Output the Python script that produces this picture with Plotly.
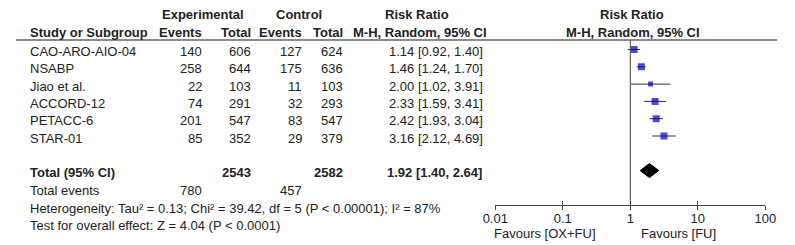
import plotly.graph_objects as go

# ---------------- data ----------------
studies = ["CAO-ARO-AIO-04", "NSABP", "Jiao et al.", "ACCORD-12", "PETACC-6", "STAR-01"]
exp_events = [140, 258, 22, 74, 201, 85]
exp_total = [606, 644, 103, 291, 547, 352]
ctrl_events = [127, 175, 11, 32, 83, 29]
ctrl_total = [624, 636, 103, 293, 547, 379]
rr = [1.14, 1.46, 2.00, 2.33, 2.42, 3.16]
rr_lo = [0.92, 1.24, 1.02, 1.59, 1.93, 2.12]
rr_hi = [1.40, 1.70, 3.91, 3.41, 3.04, 4.69]

total_exp = 2543
total_ctrl = 2582
total_exp_events = 780
total_ctrl_events = 457
pooled_rr = 1.92
pooled_lo = 1.40
pooled_hi = 2.64

heterogeneity = "Heterogeneity: Tau² = 0.13; Chi² = 39.42, df = 5 (P < 0.00001); I² = 87%"
overall = "Test for overall effect: Z = 4.04 (P < 0.0001)"
tick_vals = [0.01, 0.1, 1, 10, 100]
tick_text = ["0.01", "0.1", "1", "10", "100"]
fav_left = "Favours [OX+FU]"
fav_right = "Favours [FU]"

# ---------------- layout helpers ----------------
W, H = 795, 245
FONT = "Liberation Sans, Arial, sans-serif"
TXT = "#222222"
AXIS_Y = 205          # pixel row of the forest axis
ROW0, DY = 49.5, 17.3  # marker row positions
TEXT_OFF = 2.0

marker_sizes = [7, 7, 5, 7, 7, 7]


def row_y(i):
    return ROW0 + DY * i


def py(p):
    return 1 - p / H


annotations = []


def ann(text, x, y, anchor="left", bold=False, size=13):
    annotations.append(dict(
        text=f"<b>{text}</b>" if bold else text,
        x=x / W, y=py(y), xref="paper", yref="paper",
        xanchor=anchor, yanchor="middle", showarrow=False,
        font=dict(family=FONT, size=size, color=TXT),
    ))


# column x positions (pixels)
X_STUDY = 15
X_EXP_EV, X_EXP_TOT = 197, 247
X_CTL_EV, X_CTL_TOT = 300, 342
X_RR = 487
X_RR_HEAD = 417
X_PLOT_HEAD = 638

# headers
ann("Experimental", 196, 15, "center", True)
ann("Control", 294.5, 15, "center", True)
ann("Risk Ratio", X_RR_HEAD, 15, "center", True)
ann("Risk Ratio", X_PLOT_HEAD, 15, "center", True)
ann("Study or Subgroup", X_STUDY, 32, "left", True)
ann("Events", X_EXP_EV, 32, "right", True)
ann("Total", X_EXP_TOT, 32, "right", True)
ann("Events", X_CTL_EV, 32, "right", True)
ann("Total", X_CTL_TOT, 32, "right", True)
ann("M-H, Random, 95% CI", X_RR_HEAD + 3, 32, "center", True)
ann("M-H, Random, 95% CI", X_PLOT_HEAD + 1, 32, "center", True)

# study rows
for i, s in enumerate(studies):
    y = row_y(i) + TEXT_OFF
    ann(s, X_STUDY, y, "left")
    ann(str(exp_events[i]), X_EXP_EV, y, "right")
    ann(str(exp_total[i]), X_EXP_TOT, y, "right")
    ann(str(ctrl_events[i]), X_CTL_EV, y, "right")
    ann(str(ctrl_total[i]), X_CTL_TOT, y, "right")
    ann(f"{rr[i]:.2f} [{rr_lo[i]:.2f}, {rr_hi[i]:.2f}]", X_RR, y, "right")

# total row
yt = row_y(7) + TEXT_OFF
ann("Total (95% CI)", X_STUDY, yt, "left", True)
ann(str(total_exp), X_EXP_TOT, yt, "right", True)
ann(str(total_ctrl), X_CTL_TOT, yt, "right", True)
ann(f"{pooled_rr:.2f} [{pooled_lo:.2f}, {pooled_hi:.2f}]", X_RR - 1, yt, "right", True)

ann("Total events", X_STUDY, 190.5, "left")
ann(str(total_exp_events), X_EXP_EV, 190.5, "right")
ann(str(total_ctrl_events), X_CTL_EV, 190.5, "right")
ann(heterogeneity, X_STUDY, 208, "left")
ann(overall, X_STUDY, 225.5, "left")

ann(fav_left, 603, 233, "right")
ann(fav_right, 646, 233, "left")

# ---------------- traces ----------------
fig = go.Figure()

# CI lines
ci_x, ci_y = [], []
for i in range(len(studies)):
    ci_x += [rr_lo[i], rr_hi[i], None]
    ci_y += [row_y(i), row_y(i), None]
fig.add_trace(go.Scatter(x=ci_x, y=ci_y, mode="lines",
                         line=dict(color="#333333", width=1),
                         hoverinfo="skip", showlegend=False))

# study squares
fig.add_trace(go.Scatter(x=rr, y=[row_y(i) for i in range(len(studies))],
                         mode="markers",
                         marker=dict(symbol="square", size=marker_sizes,
                                     color="#0000c0",
                                     line=dict(width=0)),
                         showlegend=False))

# pooled diamond
yd = row_y(7)
hh = 7
fig.add_trace(go.Scatter(x=[pooled_lo, pooled_rr, pooled_hi, pooled_rr, pooled_lo],
                         y=[yd, yd - hh, yd, yd + hh, yd],
                         mode="lines", fill="toself", fillcolor="#000000",
                         line=dict(color="#000000", width=1),
                         showlegend=False, hoverinfo="skip"))

# invisible trace for the overlay axis (crossing tick marks)
fig.add_trace(go.Scatter(x=[1], y=[100], xaxis="x2", mode="markers",
                         marker=dict(opacity=0), showlegend=False, hoverinfo="skip"))

dom = [497.3 / W, 775.7 / W]
fig.update_layout(
    width=W, height=H,
    margin=dict(l=0, r=0, t=0, b=0),
    paper_bgcolor="white", plot_bgcolor="white",
    xaxis=dict(type="log", range=[-2, 2], domain=dom, anchor="y",
               showline=True, linecolor="#444444", linewidth=1,
               ticks="outside", ticklen=4, tickcolor="#444444", tickwidth=1,
               tickvals=tick_vals, ticktext=tick_text,
               ticklabelstandoff=-3,
               tickfont=dict(family=FONT, size=13, color=TXT),
               showgrid=False, zeroline=False),
    xaxis2=dict(type="log", range=[-2, 2], domain=dom, anchor="y",
                overlaying="x", side="bottom",
                ticks="inside", ticklen=4, tickcolor="#444444", tickwidth=1,
                tickvals=tick_vals, showticklabels=False,
                showline=False, showgrid=False, zeroline=False),
    yaxis=dict(range=[AXIS_Y, 0], domain=[(H - AXIS_Y) / H, 1],
               visible=False, showgrid=False, zeroline=False),
    annotations=annotations,
    shapes=[
        dict(type="line", xref="x", yref="y", x0=1, x1=1, y0=40, y1=AXIS_Y,
             line=dict(color="#444444", width=1)),
        dict(type="line", xref="paper", yref="paper", x0=3 / W, x1=788 / W,
             y0=py(40), y1=py(40), line=dict(color="#666666", width=1.5)),
    ],
)

fig.write_html(
    "out.html",
    config={"displayModeBar": False},
    post_script="document.body.style.margin='0';document.body.style.padding='0';"
                "document.body.style.overflow='hidden';",
)
